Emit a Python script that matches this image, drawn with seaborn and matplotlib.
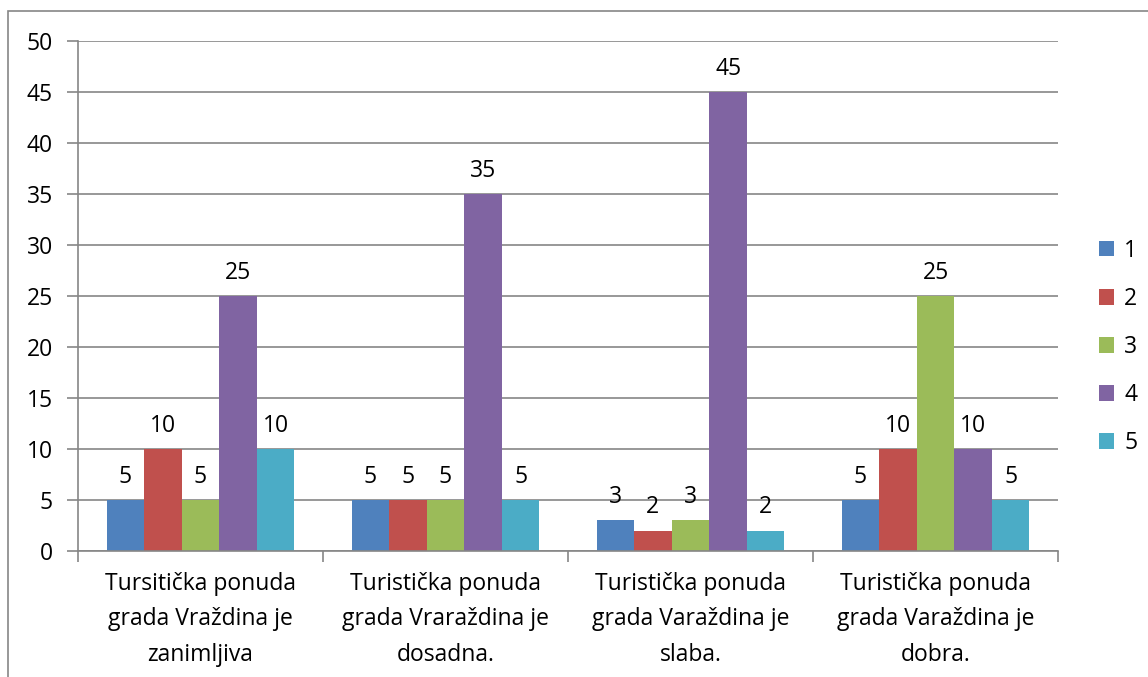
import matplotlib
matplotlib.use("Agg")
import matplotlib.pyplot as plt
from matplotlib.patches import Rectangle
import pandas as pd
import seaborn as sns

categories = [
    "Tursitička ponuda\ngrada Vraždina je\nzanimljiva",
    "Turistička ponuda\ngrada Vraraždina je\ndosadna.",
    "Turistička ponuda\ngrada Varaždina je\nslaba.",
    "Turistička ponuda\ngrada Varaždina je\ndobra.",
]
series = ["1", "2", "3", "4", "5"]
values = {
    "1": [5, 5, 3, 5],
    "2": [10, 5, 2, 10],
    "3": [5, 5, 3, 25],
    "4": [25, 35, 45, 10],
    "5": [10, 5, 2, 5],
}
colors = ["#4F81BD", "#C0504D", "#9BBB59", "#8064A2", "#4BACC6"]

rows = []
for s in series:
    for c, v in zip(categories, values[s]):
        rows.append({"cat": c, "serie": s, "val": v})
df = pd.DataFrame(rows)

sns.set_style("white")
plt.rcParams["font.family"] = ["Open Sans", "DejaVu Sans"]
plt.rcParams["text.color"] = "black"
plt.rcParams["xtick.color"] = "black"
plt.rcParams["ytick.color"] = "black"

W, H = 1148, 677
fig = plt.figure(figsize=(W / 100, H / 100), dpi=100)
ax = fig.add_axes([78 / W, 1 - 551 / H, (1058 - 78) / W, (551 - 41) / H])

sns.barplot(data=df, x="cat", y="val", hue="serie", palette=colors,
            width=0.767, gap=0, saturation=1, edgecolor="none",
            errorbar=None, ax=ax, legend=True)

# data labels
for cont in ax.containers:
    ax.bar_label(cont, padding=8, fontsize=16.5, color="black")

ax.set_ylim(0, 50)
ax.set_xlim(-0.5, 3.5)
ax.set_yticks(range(0, 51, 5))
ax.yaxis.grid(True, color="#868686", linewidth=1.2)
ax.set_axisbelow(True)
ax.set_xlabel("")
ax.set_ylabel("")
for side in ["top", "right"]:
    ax.spines[side].set_visible(False)
for side in ["left", "bottom"]:
    ax.spines[side].set_color("#868686")
    ax.spines[side].set_linewidth(1.2)

ax.tick_params(axis="y", length=8, width=1.2, color="#868686", pad=10,
               labelsize=16.5, left=True, labelcolor="black")
ax.set_xticks([-0.5, 0.5, 1.5, 2.5, 3.5], minor=True)
ax.set_xticks(range(4))
ax.set_xticklabels(categories, fontsize=16.5, linespacing=1.64)
ax.tick_params(axis="x", which="major", length=0, pad=15, labelcolor="black")
ax.tick_params(axis="x", which="minor", length=8, width=1.2, color="#868686",
               bottom=True)

leg = ax.legend(loc="center left", bbox_to_anchor=(1099 / W, 1 - 347 / H),
                bbox_transform=fig.transFigure, frameon=False, borderpad=0,
                borderaxespad=0, fontsize=16.5, handlelength=0.65,
                handleheight=0.65, handletextpad=0.45, labelspacing=1.05)
for h in leg.legend_handles:
    h.set_edgecolor("none")

# outer chart border
fig.add_artist(Rectangle((8 / W, -0.01), 1.02, 1 - 11 / H + 0.01,
                         transform=fig.transFigure, fill=False,
                         edgecolor="#868686", linewidth=1.2))

fig.savefig("out.png", dpi=100)
